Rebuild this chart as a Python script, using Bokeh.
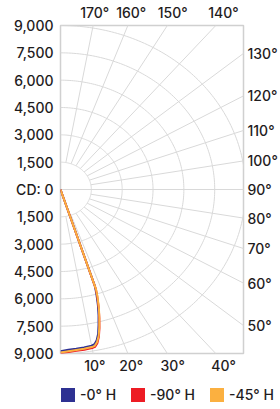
import numpy as np
from bokeh.plotting import figure
from bokeh.layouts import column
from bokeh.models import FixedTicker, Range1d, LinearAxis, Div
from bokeh.embed import file_html
from bokeh.resources import INLINE

# ---- data (candela vs vertical angle, 0 deg = straight down) ----
angles = [0, 2.5, 5, 7.5, 10, 11, 12, 13, 14, 15, 16, 17, 17.5, 20, 22.5, 25]
cd_h0 = [8870, 8800, 8770, 8740, 8700, 8650, 8460, 8130, 7650, 7150, 6600, 5950, 5550, 0, 0, 0]
cd_h90 = [8990, 8930, 8890, 8870, 8840, 8800, 8620, 8300, 7830, 7300, 6750, 6100, 5700, 0, 0, 0]
cd_h45 = [8950, 8880, 8840, 8810, 8780, 8740, 8560, 8250, 7800, 7300, 6780, 6150, 5750, 0, 0, 0]
series_names = ["-0\u00b0 H", "-90\u00b0 H", "-45\u00b0 H"]
series_colors = ["#2e3192", "#ed1c24", "#fbb040"]

cd_ticks = [9000, 7500, 6000, 4500, 3000, 1500, 0, -1500, -3000, -4500, -6000, -7500, -9000]
cd_labels = ["9,000", "7,500", "6,000", "4,500", "3,000", "1,500", "CD: 0",
             "1,500", "3,000", "4,500", "6,000", "7,500", "9,000"]
ring_radii = [1500, 3000, 4500, 6000, 7500, 9000]
spoke_angles = [10, 20, 30, 40, 50, 60, 70, 80, 90, 100, 110, 120, 130, 140, 150, 160, 170]
top_angles = [170, 160, 150, 140]
right_angles = [130, 120, 110, 100, 90, 80, 70, 60, 50]
bottom_angles = [10, 20, 30, 40]

XMAX, RMAX = 8900, 9000
FONT = "Inter Medium, Inter"
TXT = "#1f1c1d"
GRID = "#d9d9d9"
FS = "14px"

p = figure(width=280, height=380, x_range=Range1d(0, XMAX), y_range=Range1d(-RMAX, RMAX),
           output_backend="svg", toolbar_location=None, x_axis_location="below",
           min_border_left=60, min_border_right=36, min_border_top=23, min_border_bottom=27)
p.grid.visible = False
p.outline_line_color = "#d0d0d0"
p.outline_line_width = 1.5
p.background_fill_color = "white"
p.border_fill_color = "white"


def style_axis(ax, ticks, labels, standoff):
    ax.ticker = FixedTicker(ticks=ticks)
    ax.major_label_overrides = {t: l for t, l in zip(ticks, labels)}
    ax.axis_line_color = None
    ax.major_tick_line_color = None
    ax.minor_tick_line_color = None
    ax.major_tick_out = 0
    ax.major_tick_in = 0
    ax.major_label_standoff = standoff
    ax.major_label_text_font = FONT
    ax.major_label_text_font_size = FS
    ax.major_label_text_color = TXT


# left axis: candela
style_axis(p.yaxis[0], cd_ticks, cd_labels, 7)

# angle label axes
LF = 1.05
top_ticks = [int(round(-LF * RMAX * np.tan(np.radians(a)))) for a in top_angles]
bot_ticks = [int(round(LF * RMAX * np.tan(np.radians(a)))) for a in bottom_angles]
right_ticks = [int(round(-XMAX * np.cos(np.radians(a)) / np.sin(np.radians(a)))) for a in right_angles]

style_axis(p.xaxis[0], bot_ticks, [f"{a}\u00b0" for a in bottom_angles], 3)
top_ax = LinearAxis()
style_axis(top_ax, top_ticks, [f"{a}\u00b0" for a in top_angles], 5)
p.add_layout(top_ax, "above")
right_ax = LinearAxis()
style_axis(right_ax, right_ticks, [f"{a}\u00b0" for a in right_angles], 4)
p.add_layout(right_ax, "right")

# rings
t = np.radians(np.linspace(0, 180, 181))
p.multi_line(xs=[list(r * np.sin(t)) for r in ring_radii],
             ys=[list(-r * np.cos(t)) for r in ring_radii],
             line_color=GRID, line_width=1)
# spokes
sx, sy = [], []
for a in spoke_angles:
    r0 = 0 if a == 90 else ring_radii[0]
    ar = np.radians(a)
    sx.append([r0 * np.sin(ar), 30000 * np.sin(ar)])
    sy.append([-r0 * np.cos(ar), -30000 * np.cos(ar)])
p.multi_line(xs=sx, ys=sy, line_color=GRID, line_width=1)

# curves
ang = np.radians(angles)
for vals, col in zip([cd_h0, cd_h90, cd_h45], series_colors):
    v = np.array(vals, dtype=float)
    p.line(v * np.sin(ang), -v * np.cos(ang), line_color=col, line_width=2, line_join="round")

# legend row (HTML text)
parts = []
for i, (name, col) in enumerate(zip(series_names, series_colors)):
    gap = "0" if i == 0 else "15px"
    parts.append(
        f'<span style="display:inline-block;width:14px;height:14px;background:{col};'
        f'margin-left:{gap};margin-right:5px;flex:none"></span>'
        f'<span style="line-height:14px;flex:none">{name}</span>')
legend_html = (
    '<div style="display:flex;align-items:center;height:14px;margin-top:8px;'
    f'margin-left:61px;font-family:{FONT},sans-serif;font-size:14px;color:{TXT};'
    'white-space:nowrap;">' + "".join(parts) + "</div>")
legend_div = Div(text=legend_html, width=280, height=29, margin=0)

layout = column(p, legend_div, spacing=0)
open("out.html", "w").write(file_html(layout, INLINE))
